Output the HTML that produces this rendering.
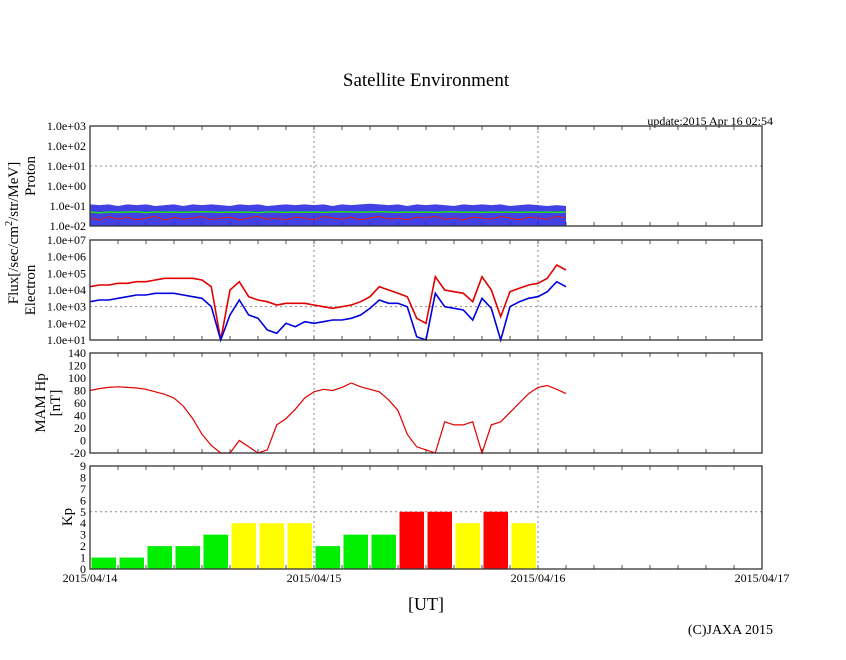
<!DOCTYPE html>
<html><head><meta charset="utf-8"><style>
body{margin:0;background:#fff;width:846px;height:655px;overflow:hidden}
svg{font-family:"Liberation Serif",serif}
</style></head><body>
<svg id="c" width="846" height="655" xmlns="http://www.w3.org/2000/svg"></svg>
<script>
// ---- data (hourly samples from 2015/04/14 00:00 UT) ----
const hours = Array.from({length:52},(_,i)=>i);
const protonBlueMax = [0.12,0.11,0.12,0.1,0.12,0.11,0.12,0.1,0.11,0.12,0.1,0.12,0.11,0.12,0.11,0.1,0.12,0.11,0.12,0.1,0.11,0.12,0.11,0.12,0.11,0.12,0.1,0.12,0.11,0.12,0.13,0.12,0.11,0.12,0.1,0.12,0.11,0.12,0.11,0.1,0.12,0.11,0.12,0.11,0.12,0.1,0.11,0.12,0.11,0.1,0.11,0.1];
const protonBlueMin = hours.map(()=>0.01);
const protonGreen = [0.05,0.045,0.05,0.048,0.05,0.052,0.047,0.05,0.049,0.05,0.048,0.05,0.051,0.05,0.048,0.05,0.049,0.05,0.047,0.05,0.05,0.048,0.05,0.049,0.05,0.048,0.05,0.051,0.05,0.049,0.05,0.052,0.05,0.048,0.05,0.049,0.05,0.048,0.05,0.051,0.049,0.05,0.048,0.05,0.049,0.05,0.048,0.05,0.049,0.05,0.048,0.05];
const protonRed = [0.025,0.02,0.03,0.022,0.028,0.02,0.025,0.03,0.02,0.027,0.022,0.025,0.03,0.02,0.025,0.028,0.02,0.025,0.03,0.022,0.025,0.02,0.028,0.025,0.02,0.03,0.025,0.022,0.028,0.02,0.025,0.03,0.022,0.025,0.02,0.028,0.025,0.03,0.022,0.025,0.02,0.028,0.025,0.022,0.03,0.025,0.02,0.028,0.025,0.022,0.03,0.025];
const electronRedLog = [4.2,4.3,4.3,4.4,4.4,4.5,4.5,4.6,4.7,4.7,4.7,4.7,4.6,4.2,1.0,4.0,4.5,3.6,3.4,3.3,3.1,3.2,3.2,3.2,3.1,3.0,2.9,3.0,3.1,3.3,3.6,4.2,4.0,3.8,3.6,2.3,2.0,4.8,4.0,3.9,3.8,3.3,4.8,4.0,2.4,3.9,4.1,4.3,4.4,4.7,5.5,5.2];
const electronBlueLog = [3.3,3.4,3.4,3.5,3.6,3.7,3.7,3.8,3.8,3.8,3.7,3.6,3.5,3.0,1.0,2.5,3.4,2.5,2.3,1.6,1.4,2.0,1.8,2.1,2.0,2.1,2.2,2.2,2.3,2.5,2.9,3.4,3.2,3.2,3.0,1.2,1.0,3.8,3.0,2.9,2.8,2.2,3.5,2.9,1.0,3.0,3.3,3.5,3.6,3.9,4.5,4.2];
const hpValues = [80,83,85,86,85,84,82,78,74,68,55,35,10,-8,-20,-20,0,-10,-20,-15,25,35,50,68,78,82,80,85,92,86,82,78,65,48,10,-10,-15,-20,30,25,25,30,-20,25,30,45,60,75,85,88,82,75];
const kpValues = [1,1,2,2,3,4,4,4,2,3,3,5,5,4,5,4];
const dateLabels = ["2015/04/14","2015/04/15","2015/04/16","2015/04/17"];
const protonTicks = ["1.0e-02","1.0e-01","1.0e+00","1.0e+01","1.0e+02","1.0e+03"];
const electronTicks = ["1.0e+01","1.0e+02","1.0e+03","1.0e+04","1.0e+05","1.0e+06","1.0e+07"];
const hpTicks = [-20,0,20,40,60,80,100,120,140];
const kpTicks = [0,1,2,3,4,5,6,7,8,9];

const NS="http://www.w3.org/2000/svg";
const svg=document.getElementById('c');
function mk(tag,attrs,parent){const e=document.createElementNS(NS,tag);for(const k in attrs)e.setAttribute(k,attrs[k]);(parent||svg).appendChild(e);return e;}
const X0=90,X1=762;
const xH=h=>X0+h*(X1-X0)/72;
const P1={t:126,b:226},P2={t:240,b:340},P3={t:353,b:453},P4={t:466,b:569};
const yProton=v=>P1.b-(Math.log10(v)+2)*(P1.b-P1.t)/5;
const yElec=l=>P2.b-(l-1)*(P2.b-P2.t)/6;
const yHp=v=>P3.b-(v+20)*(P3.b-P3.t)/160;
const yKp=v=>P4.b-v*(P4.b-P4.t)/9;

function t(x,y,s,size,anchor,name,extra){const e=mk('text',Object.assign({x:x,y:y,'font-size':size,'text-anchor':anchor||'start',fill:'#000'},extra||{}));e.textContent=s;return e;}

function frame(P,name,gridYs){
  const g=mk('g',{});
  [1,2].forEach(d=>mk('line',{x1:xH(d*24),x2:xH(d*24),y1:P.t,y2:P.b,stroke:'#888','stroke-dasharray':'2,3','stroke-width':1},g));
  gridYs.forEach(y=>mk('line',{x1:X0,x2:X1,y1:y,y2:y,stroke:'#888','stroke-dasharray':'2,3','stroke-width':1},g));
  for(let h=3;h<72;h+=3){mk('line',{x1:xH(h),x2:xH(h),y1:P.t,y2:P.t+4,stroke:'#555'},g);mk('line',{x1:xH(h),x2:xH(h),y1:P.b,y2:P.b-4,stroke:'#555'},g);}
  return g;
}
function box(P,name){const r=mk('rect',{x:X0,y:P.t,width:X1-X0,height:P.b-P.t,fill:'none',stroke:'#333','stroke-width':1.3});}
function poly(xs,ys,color,name,w){const p=mk('polyline',{points:xs.map((x,i)=>x.toFixed(1)+','+ys[i].toFixed(1)).join(' '),fill:'none',stroke:color,'stroke-width':w||1});return p;}

t(426,86,"Satellite Environment",19,'middle','chart-title');
t(773,125,"update:2015 Apr 16 02:54",12,'end','update-time');

// Panel 1 proton
frame(P1,'proton-grid',[yProton(10)]);
const bandPts=hours.map(h=>xH(h)+','+yProton(protonBlueMax[h])).concat(hours.slice().reverse().map(h=>xH(h)+','+yProton(protonBlueMin[h])));
const band=mk('polygon',{points:bandPts.join(' '),fill:'#2020e0',opacity:0.85});


poly(hours.map(xH),protonRed.map(yProton),'#e02020','proton-red-series',1);
poly(hours.map(xH),protonGreen.map(yProton),'#20e020','proton-green-series',1.5);
box(P1,'proton-panel');
protonTicks.forEach((s,i)=>t(86,yProton(Math.pow(10,i-2))+4,s,12,'end','proton-tick'));

// Panel 2 electron
frame(P2,'electron-grid',[yElec(3)]);
poly(hours.map(xH),electronRedLog.map(yElec),'#e00000','electron-red-series',1.6);
poly(hours.map(xH),electronBlueLog.map(yElec),'#0000e0','electron-blue-series',1.6);
box(P2,'electron-panel');
electronTicks.forEach((s,i)=>t(86,yElec(i+1)+4,s,12,'end','electron-tick'));

// Panel 3 Hp
frame(P3,'hp-grid',[]);
poly(hours.map(xH),hpValues.map(v=>yHp(Math.max(-20,v))),'#e00000','hp-series',1.2);
box(P3,'hp-panel');
hpTicks.forEach(v=>t(86,yHp(v)+4,String(v),12,'end','hp-tick'));

// Panel 4 Kp
frame(P4,'kp-grid',[yKp(5)]);
kpValues.forEach((v,i)=>{
  const col=v>=5?'#ff0000':(v>=4?'#ffff00':'#00ee00');
  const r=mk('rect',{x:xH(i*3)+1.5,y:yKp(v),width:xH(3)-xH(0)-3.5,height:yKp(0)-yKp(v),fill:col});
  
  
});
box(P4,'kp-panel');
kpTicks.forEach(v=>t(86,yKp(v)+4,String(v),12,'end','kp-tick'));

dateLabels.forEach((s,i)=>t(xH(i*24),582,s,12,'middle','date-label'));
t(426,610,"[UT]",18,'middle','x-axis-title');
t(773,634,"(C)JAXA 2015",14,'end','copyright');

// y-axis titles
const fl=t(0,0,"",15,'middle','flux-axis-title',{transform:'translate(18,233) rotate(-90)'});
fl.innerHTML='Flux[/sec/cm<tspan dy="-6" font-size="10">2</tspan><tspan dy="6">/str/MeV]</tspan>';
t(0,0,"Proton",15,'middle','proton-axis-title',{transform:'translate(35,176) rotate(-90)'});
t(0,0,"Electron",15,'middle','electron-axis-title',{transform:'translate(35,290) rotate(-90)'});
t(0,0,"MAM Hp",15,'middle','hp-axis-title',{transform:'translate(45,403) rotate(-90)'});
t(0,0,"[nT]",15,'middle','hp-unit-title',{transform:'translate(60,403) rotate(-90)'});
t(0,0,"Kp",15,'middle','kp-axis-title',{transform:'translate(72,517) rotate(-90)'});
</script>
</body></html>
